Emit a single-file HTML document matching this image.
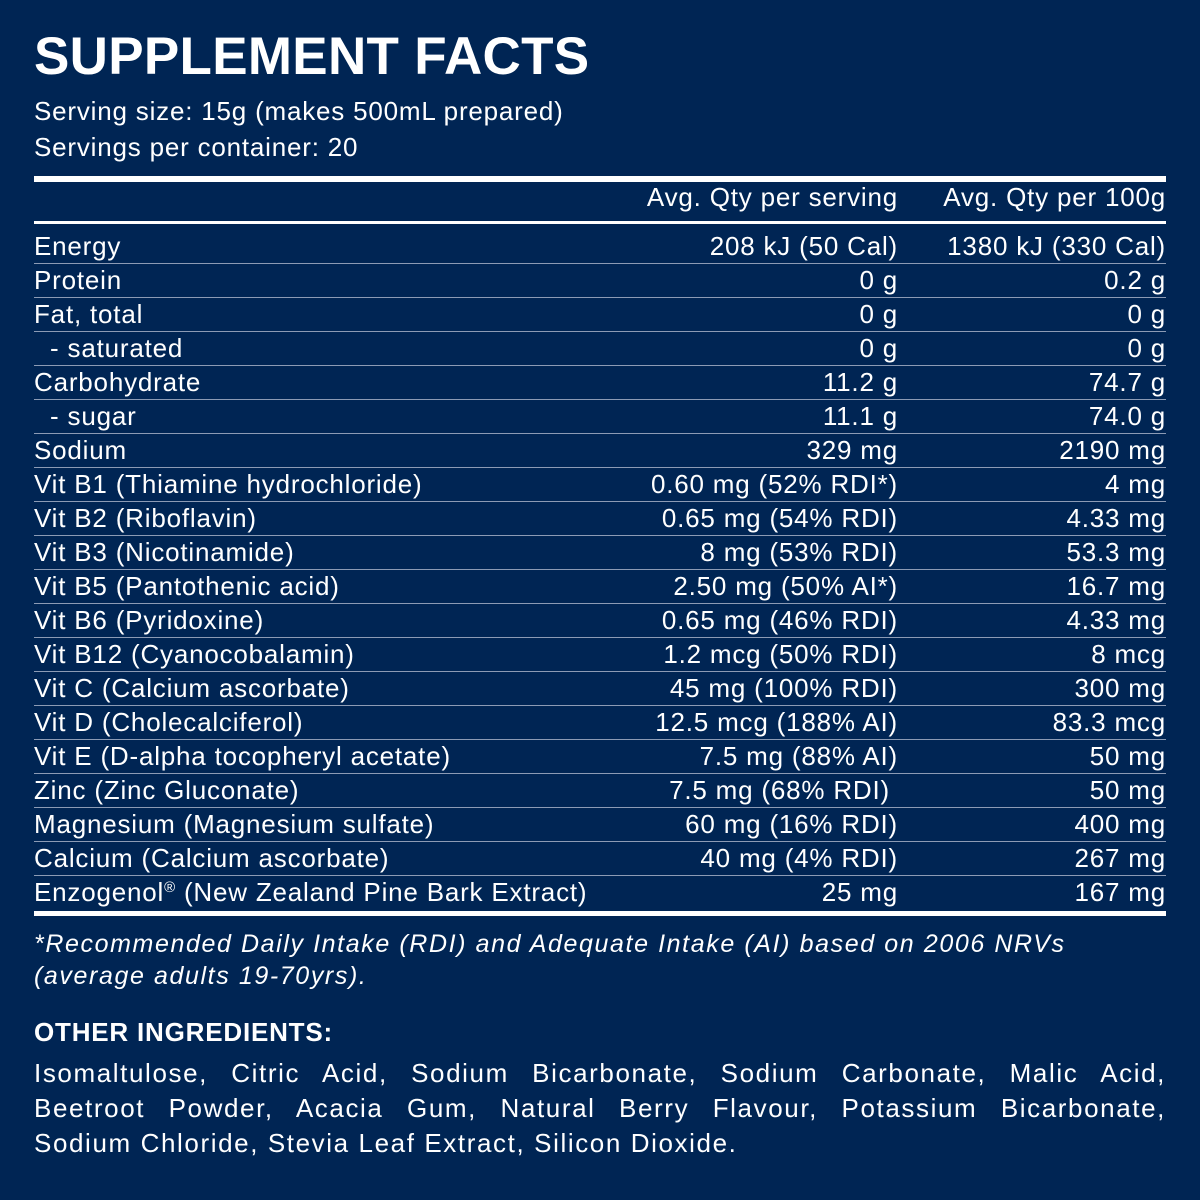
<!DOCTYPE html>
<html><head><meta charset="utf-8"><style>
body{margin:0;width:1200px;height:1200px;background:#002554;color:#fff;font-family:"Liberation Sans",sans-serif;position:relative;overflow:hidden}
.a{position:absolute;white-space:nowrap}
.t{left:34px;top:26px;font-size:53px;font-weight:bold;letter-spacing:0.3px}
.s{left:34px;font-size:26px;line-height:34px;letter-spacing:0.8px}
.rule{position:absolute;left:34px;width:1132px;background:#fff}
.sep{position:absolute;left:34px;width:1132px;height:1px;background:#8c9bb5}
.row{position:absolute;left:34px;width:1132px;height:34px;font-size:26px;line-height:34px;letter-spacing:0.8px}
.row span{position:absolute;top:0;white-space:nowrap}
.c1{right:268px}.c2{right:0}
.ing{position:absolute;left:34px;width:1132px;font-size:26px;line-height:35px;letter-spacing:1.6px}
.j{text-align:justify;text-align-last:justify}
</style></head><body>
<div class="a t">SUPPLEMENT FACTS</div>
<div class="a s" style="top:94px">Serving size: 15g (makes 500mL prepared)</div>
<div class="a s" style="top:130px">Servings per container: 20</div>
<div class="rule" style="top:176px;height:6px"></div>
<div class="row" style="top:180px"><span class="c1">Avg. Qty per serving</span><span class="c2">Avg. Qty per 100g</span></div>
<div class="rule" style="top:221px;height:3px"></div>
<div id="rows"></div>
<div class="rule" style="top:911px;height:5px"></div>
<div class="a" style="left:34px;top:928px;font-size:25px;line-height:32px;font-style:italic;letter-spacing:1.6px">*Recommended Daily Intake (RDI) and Adequate Intake (AI) based on 2006 NRVs<br>(average adults 19-70yrs).</div>
<div class="a" style="left:34px;top:1017px;font-size:26px;font-weight:bold;letter-spacing:0.8px">OTHER INGREDIENTS:</div>
<div class="ing j" style="top:1056px">Isomaltulose, Citric Acid, Sodium Bicarbonate, Sodium Carbonate, Malic Acid,</div>
<div class="ing j" style="top:1091px">Beetroot Powder, Acacia Gum, Natural Berry Flavour, Potassium Bicarbonate,</div>
<div class="ing" style="top:1126px">Sodium Chloride, Stevia Leaf Extract, Silicon Dioxide.</div>
<script>
var d=[["Energy","208 kJ (50 Cal)","1380 kJ (330 Cal)"],["Protein","0 g","0.2 g"],["Fat, total","0 g","0 g"],["&nbsp;&nbsp;- saturated","0 g","0 g"],["Carbohydrate","11.2 g","74.7 g"],["&nbsp;&nbsp;- sugar","11.1 g","74.0 g"],["Sodium","329 mg","2190 mg"],["Vit B1 (Thiamine hydrochloride)","0.60 mg (52% RDI*)","4 mg"],["Vit B2 (Riboflavin)","0.65 mg (54% RDI)","4.33 mg"],["Vit B3 (Nicotinamide)","8 mg (53% RDI)","53.3 mg"],["Vit B5 (Pantothenic acid)","2.50 mg (50% AI*)","16.7 mg"],["Vit B6 (Pyridoxine)","0.65 mg (46% RDI)","4.33 mg"],["Vit B12 (Cyanocobalamin)","1.2 mcg (50% RDI)","8 mcg"],["Vit C (Calcium ascorbate)","45 mg (100% RDI)","300 mg"],["Vit D (Cholecalciferol)","12.5 mcg (188% AI)","83.3 mcg"],["Vit E (D-alpha tocopheryl acetate)","7.5 mg (88% AI)","50 mg"],["Zinc (Zinc Gluconate)","7.5 mg (68% RDI)&nbsp;","50 mg"],["Magnesium (Magnesium sulfate)","60 mg (16% RDI)","400 mg"],["Calcium (Calcium ascorbate)","40 mg (4% RDI)","267 mg"],["Enzogenol<sup style='font-size:15px;vertical-align:9px;line-height:0'>®</sup> (New Zealand Pine Bark Extract)","25 mg","167 mg"]];
var h="";
for(var i=0;i<d.length;i++){var t=229+34*i;
h+='<div class="row" style="top:'+(t)+'px"><span style="left:0">'+d[i][0]+'</span><span class="c1">'+d[i][1]+'</span><span class="c2">'+d[i][2]+'</span></div>';
if(i<d.length-1)h+='<div class="sep" style="top:'+(t+34)+'px"></div>';}
document.getElementById("rows").outerHTML=h;
</script>
</body></html>
